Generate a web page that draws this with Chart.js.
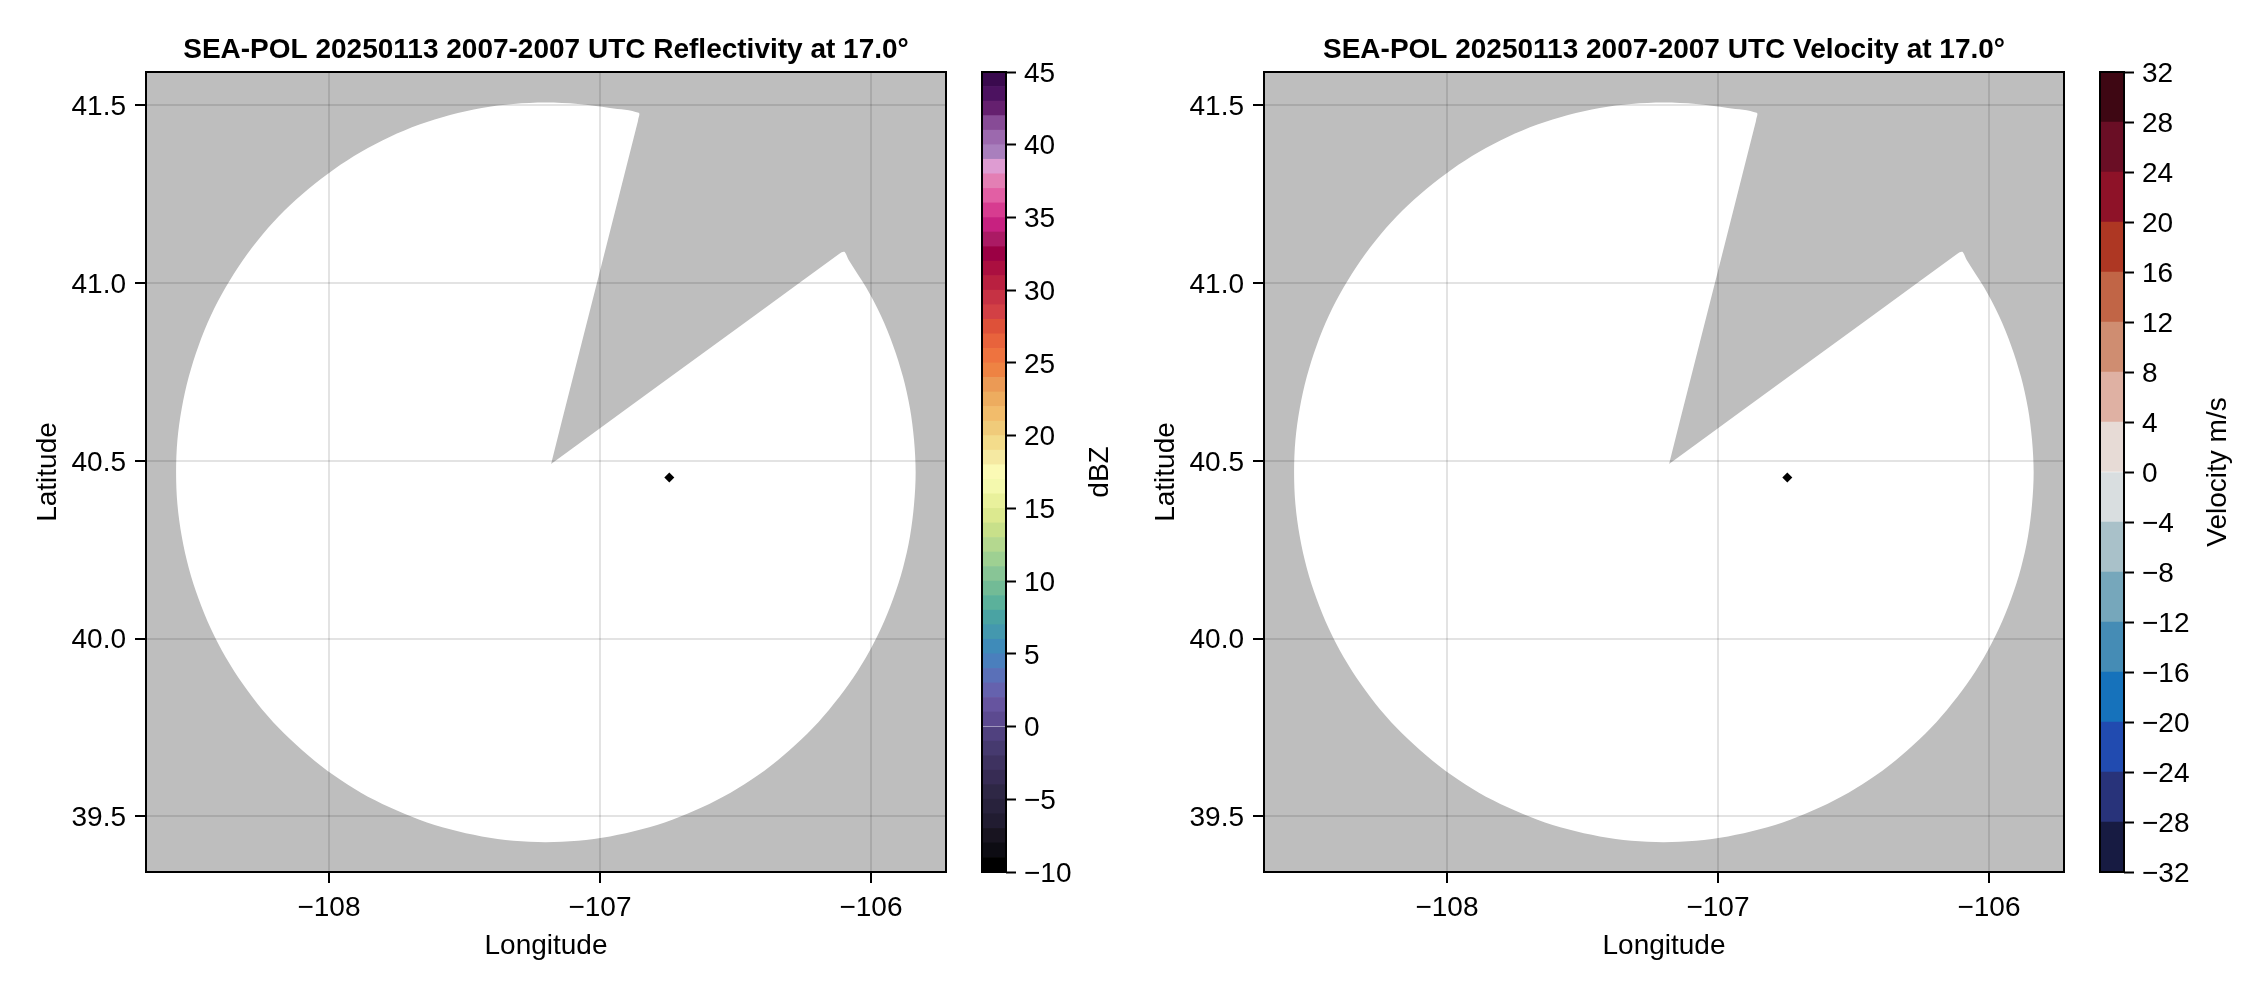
<!DOCTYPE html>
<html>
<head>
<meta charset="utf-8">
<title>SEA-POL 20250113</title>
<script src="https://cdn.jsdelivr.net/npm/chart.js@4/dist/chart.umd.min.js"></script>
<style>
  html, body { margin: 0; padding: 0; background: #fff; width: 2262px; height: 990px; overflow: hidden; }
  canvas { position: absolute; top: 0; }
</style>
</head>
<body>
<canvas id="mapRef" width="960" height="990" style="left:0"></canvas>
<canvas id="barRef" width="160" height="990" style="left:960px"></canvas>
<canvas id="mapVel" width="960" height="990" style="left:1118px"></canvas>
<canvas id="barVel" width="160" height="990" style="left:2078px"></canvas>
<script>
// axis ranges and ticks
const lonRange = [-108.675, -105.723];
const latRange = [39.343, 41.594];
const lonTicks = [-108, -107, -106];
const lonLabels = ['\u2212108', '\u2212107', '\u2212106'];
const latTicks = [39.5, 40, 40.5, 41, 41.5];
const latLabels = ['39.5', '40.0', '40.5', '41.0', '41.5'];

// outline of the scanned (white) area, clockwise from the wedge tip
const edgeLon = [-107.18, -107.169, -106.119, -106.108, -106.096, -106.082, -106.018, -105.963, -105.918, -105.882, -105.856, -105.841,
  -105.835, -105.841, -105.856, -105.882, -105.918, -105.963, -106.018, -106.082, -106.155, -106.235,
  -106.323, -106.417, -106.518, -106.623, -106.733, -106.846, -106.963, -107.081, -107.2, -107.319,
  -107.436, -107.553, -107.666, -107.776, -107.882, -107.982, -108.076, -108.164, -108.245, -108.317,
  -108.381, -108.436, -108.481, -108.517, -108.543, -108.559, -108.564, -108.559, -108.543, -108.517,
  -108.481, -108.436, -108.381, -108.317, -108.245, -108.164, -108.076, -107.982, -107.882, -107.776,
  -107.666, -107.553, -107.436, -107.319, -107.2, -107.081, -106.963, -106.857, -106.859, -106.862, -107.177, -107.18];
const edgeLat = [40.491, 40.497, 41.081, 41.087, 41.087, 41.065, 40.988, 40.908, 40.824, 40.737, 40.648, 40.559,
  40.468, 40.377, 40.287, 40.198, 40.112, 40.028, 39.947, 39.871, 39.799, 39.732,
  39.671, 39.615, 39.566, 39.525, 39.49, 39.463, 39.443, 39.431, 39.427, 39.431,
  39.443, 39.463, 39.49, 39.525, 39.566, 39.615, 39.671, 39.732, 39.799, 39.871,
  39.947, 40.028, 40.112, 40.198, 40.287, 40.377, 40.468, 40.559, 40.648, 40.737,
  40.824, 40.908, 40.988, 41.065, 41.137, 41.204, 41.265, 41.32, 41.369, 41.411,
  41.446, 41.473, 41.493, 41.504, 41.508, 41.504, 41.493, 41.479, 41.459, 41.449, 40.501, 40.491];

// radar site marker
const siteLon = [-106.744];
const siteLat = [40.453];

// reflectivity colour bar, bottom to top
const dbzEdges = [-10, -9, -8, -7, -6, -5, -4, -3, -2, -1, 0, 1, 2, 3, 4, 5, 6, 7, 8, 9, 10, 11, 12, 13, 14, 15, 16, 17,
  18, 19, 20, 21, 22, 23, 24, 25, 26, 27, 28, 29, 30, 31, 32, 33, 34, 35, 36, 37, 38, 39, 40, 41, 42, 43, 44, 45];
const dbzColors = ['#000000', '#0d0c13', '#181420', '#211c31', '#28223c', '#2e2745', '#372c54', '#3e3260', '#463a6f', '#50417f',
  '#5c4a90', '#66549f', '#6562ae', '#5a70b8', '#4a7fbd', '#3f8bb9', '#4498ae', '#4aa3a3', '#5bb19b', '#72bb96',
  '#88c596', '#9ed092', '#b4d88f', '#c8e08a', '#dce98f', '#e9f19c', '#f4f9ae', '#fbfab5', '#f5e9a2', '#f3dc8b',
  '#f0cb7a', '#f2bc6b', '#edac5f', '#eb9a55', '#ee8343', '#ee733f', '#e8633c', '#de5139', '#d24045', '#c63244',
  '#b92040', '#ab0f40', '#9b0044', '#ab1a64', '#c72180', '#d73c90', '#e25fa4', '#e37fb4', '#de9cd2', '#a97fbd',
  '#9c69ae', '#874b96', '#65206f', '#4c1260', '#3a0a4e'];
const dbzTicks = [-10, -5, 0, 5, 10, 15, 20, 25, 30, 35, 40, 45];

// velocity colour bar, bottom to top
const velEdges = [-32, -28, -24, -20, -16, -12, -8, -4, 0, 4, 8, 12, 16, 20, 24, 28, 32];
const velColors = ['#171b42', '#28337a', '#214bb0', '#1672bb', '#458cb5', '#76a7bb', '#a9c1c9', '#d9dee0',
  '#e7dbd6', '#dfb1a3', '#cf8d71', '#c16546', '#ae3723', '#8e1228', '#6a0e25', '#3e0713'];
const velTicks = velEdges;

const fontSize = 28;
Chart.defaults.font.family = '"Liberation Sans", Arial, sans-serif';
Chart.defaults.font.size = fontSize;
Chart.defaults.color = '#000';
Chart.defaults.animation = false;
Chart.defaults.devicePixelRatio = 1;

const minus = v => String(v).replace('-', '\u2212');

// grey no-data background and black frame round the plot area
const framePlugin = {
  id: 'frame',
  beforeDraw(chart, args, opts) {
    // y tick labels sit a little below the tick in the original
    const y = chart.scales.y;
    if (!chart.$labelsMoved) {
      y.getLabelItems(chart.chartArea).forEach(item => { item.options.translation[1] += 2; });
      chart.$labelsMoved = true;
    }
    if (!opts.fill) return;
    const a = chart.chartArea;
    chart.ctx.fillStyle = opts.fill;
    chart.ctx.fillRect(a.left, a.top, a.width, a.height);
  },
  afterDraw(chart) {
    const a = chart.chartArea, ctx = chart.ctx;
    ctx.save();
    ctx.strokeStyle = '#000';
    ctx.lineWidth = 2;
    ctx.strokeRect(a.left, a.top, a.width, a.height);
    ctx.restore();
  }
};

// right-hand axis titles read bottom to top here, which the library's own title won't do
const barLabelPlugin = {
  id: 'barLabel',
  afterDraw(chart, args, opts) {
    const a = chart.chartArea, ctx = chart.ctx;
    ctx.save();
    ctx.translate(chart.width - 20, (a.top + a.bottom) / 2);
    ctx.rotate(-Math.PI / 2);
    ctx.font = fontSize + 'px ' + Chart.defaults.font.family;
    ctx.fillStyle = '#000';
    ctx.textAlign = 'center';
    ctx.textBaseline = 'middle';
    ctx.fillText(opts.text, 0, 0);
    ctx.restore();
  }
};

function drawMap(id, title) {
  new Chart(document.getElementById(id), {
    type: 'line',
    data: {
      datasets: [
        {
          data: siteLon.map((x, i) => ({ x, y: siteLat[i] })),
          showLine: false,
          pointStyle: 'rectRot',
          pointRadius: 5,
          pointBackgroundColor: '#000',
          pointBorderWidth: 0,
          order: 1
        },
        {
          data: edgeLon.map((x, i) => ({ x, y: edgeLat[i] })),
          fill: 'shape',
          backgroundColor: '#fff',
          borderWidth: 0,
          pointRadius: 0,
          tension: 0.33,
          order: 2
        }
      ]
    },
    options: {
      responsive: false,
      layout: { autoPadding: false, padding: { right: 14 } },
      plugins: {
        legend: { display: false },
        tooltip: { enabled: false },
        frame: { fill: '#bebebe' },
        title: {
          display: true,
          text: title,
          fullSize: false,
          font: { size: fontSize, weight: 'bold' },
          padding: { top: 33, bottom: 5.4 }
        }
      },
      scales: {
        x: {
          type: 'linear',
          min: lonRange[0],
          max: lonRange[1],
          afterFit(s) { s.height = 118; },
          afterBuildTicks(s) { s.ticks = lonTicks.map(value => ({ value })); },
          border: { display: false },
          grid: { z: 1, color: 'rgba(0,0,0,0.11)', lineWidth: 2, tickColor: '#000', tickWidth: 2, tickLength: 11 },
          ticks: { maxRotation: 0, autoSkip: false, padding: 8, callback: (v, i) => lonLabels[i] },
          title: { display: true, text: 'Longitude', padding: { top: 0, bottom: 27 } }
        },
        y: {
          type: 'linear',
          min: latRange[0],
          max: latRange[1],
          afterFit(s) { s.width = 146; },
          afterBuildTicks(s) { s.ticks = latTicks.map(value => ({ value })); },
          border: { display: false },
          grid: { z: 1, color: 'rgba(0,0,0,0.11)', lineWidth: 2, tickColor: '#000', tickWidth: 2, tickLength: 11 },
          ticks: { autoSkip: false, padding: 9, callback: (v, i) => latLabels[i] },
          title: { display: true, text: 'Latitude', padding: { top: 31, bottom: 0 } }
        }
      }
    },
    plugins: [framePlugin]
  });
}

function drawBar(id, edges, colors, ticks, label) {
  new Chart(document.getElementById(id), {
    type: 'bar',
    data: {
      labels: [''],
      datasets: colors.map((c, i) => ({
        data: [[edges[i], edges[i + 1]]],
        backgroundColor: c,
        borderWidth: 0,
        barPercentage: 1,
        categoryPercentage: 1
      }))
    },
    options: {
      responsive: false,
      layout: { autoPadding: false, padding: { left: 22, top: 72, bottom: 118 } },
      plugins: { legend: { display: false }, tooltip: { enabled: false }, barLabel: { text: label } },
      scales: {
        x: { display: false, grid: { display: false } },
        y: {
          position: 'right',
          stacked: false,
          min: edges[0],
          max: edges[edges.length - 1],
          afterFit(s) { s.width = 114; },
          afterBuildTicks(s) { s.ticks = ticks.map(value => ({ value })); },
          border: { display: false },
          grid: { drawOnChartArea: false, tickColor: '#000', tickWidth: 2, tickLength: 10 },
          ticks: { autoSkip: false, padding: 8, callback: v => minus(v) }
        }
      },
      datasets: { bar: { grouped: false } }
    },
    plugins: [framePlugin, barLabelPlugin]
  });
}

drawMap('mapRef', 'SEA-POL 20250113 2007-2007 UTC Reflectivity at 17.0\u00b0');
drawBar('barRef', dbzEdges, dbzColors, dbzTicks, 'dBZ');
drawMap('mapVel', 'SEA-POL 20250113 2007-2007 UTC Velocity at 17.0\u00b0');
drawBar('barVel', velEdges, velColors, velTicks, 'Velocity m/s');
</script>
</body>
</html>
